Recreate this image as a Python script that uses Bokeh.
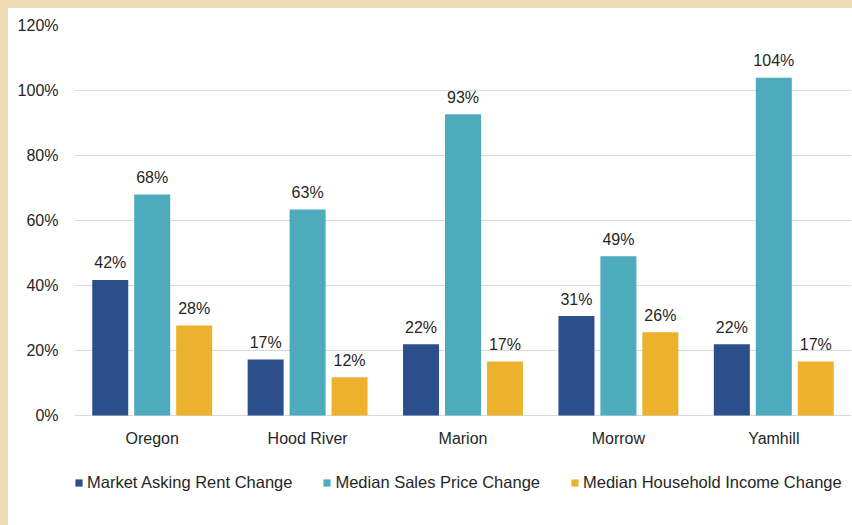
from bokeh.plotting import figure
from bokeh.models import (ColumnDataSource, FixedTicker, PrintfTickFormatter,
                          Legend, LegendItem, FactorRange)
from bokeh.transform import dodge
from bokeh.core.properties import value
from bokeh.embed import file_html
from bokeh.resources import INLINE

# ---- data ----
categories = ["Oregon", "Hood River", "Marion", "Morrow", "Yamhill"]
series_names = ["Market Asking Rent Change",
                "Median Sales Price Change",
                "Median Household Income Change"]
rent_change = [41.7, 17.2, 21.9, 30.6, 21.9]
sales_price_change = [68.0, 63.4, 92.7, 49.0, 103.9]
income_change = [27.7, 11.8, 16.6, 25.6, 16.6]
y_ticks = [0, 20, 40, 60, 80, 100, 120]

colors = ["#2C4E8A", "#4EAABD", "#ECB22E"]
FONT = "Liberation Sans"
TEXT = "#262626"
GRID = "#D9D9D9"


def fmt(vals):
    return [f"{round(v):.0f}%" for v in vals]


source = ColumnDataSource(dict(
    cat=categories,
    base=[0] * len(categories),
    rent=rent_change, sales=sales_price_change, income=income_change,
    rent_lbl=fmt(rent_change), sales_lbl=fmt(sales_price_change),
    income_lbl=fmt(income_change),
))

# frame reaches the bottom of the page so the legend under the axis stays visible
FRAME_H = 500
PLOT_H = 390  # pixels spanned by 0..120
y_top = 120
y_bottom = y_top - y_top * FRAME_H / PLOT_H

p = figure(x_range=FactorRange(*categories), y_range=(y_bottom, y_top),
           frame_width=777, frame_height=FRAME_H,
           min_border_left=66, min_border_right=1,
           min_border_top=17, min_border_bottom=0,
           output_backend="svg", toolbar_location=None)

p.outline_line_color = None
p.background_fill_color = "white"
p.border_fill_color = "white"

bar_w = 0.2317
offsets = [-0.27, 0.0, 0.27]
cols = ["rent", "sales", "income"]
renderers = []
for off, col, c in zip(offsets, cols, colors):
    r = p.vbar(x=dodge("cat", off, range=p.x_range), top=col, bottom=0,
               width=bar_w, source=source, fill_color=c, line_color=None)
    renderers.append(r)
    p.text(x=dodge("cat", off, range=p.x_range), y=col, text=col + "_lbl",
           source=source, text_align="center", text_baseline="middle",
           y_offset=-17, text_font=value(FONT), text_font_size="16px",
           text_color=TEXT)

# category labels under the 0% line
p.text(x="cat", y="base", text="cat", source=source, text_align="center",
       text_baseline="middle", y_offset=23, text_font=value(FONT),
       text_font_size="16px", text_color=TEXT)

# axes
p.yaxis.ticker = FixedTicker(ticks=y_ticks)
p.yaxis.formatter = PrintfTickFormatter(format="%d%%")
p.yaxis.axis_line_color = None
p.yaxis.major_tick_line_color = None
p.yaxis.minor_tick_line_color = None
p.yaxis.major_tick_out = 0
p.yaxis.major_tick_in = 0
p.yaxis.major_label_standoff = 16
p.yaxis.major_label_text_font = FONT
p.yaxis.major_label_text_font_size = "16px"
p.yaxis.major_label_text_color = TEXT

p.xaxis.visible = False

p.xgrid.grid_line_color = None
p.ygrid.ticker = FixedTicker(ticks=y_ticks)
p.ygrid.grid_line_color = GRID
p.ygrid.grid_line_width = 1

legend = Legend(
    items=[LegendItem(label=n, renderers=[r]) for n, r in zip(series_names, renderers)],
    orientation="horizontal", location=(0, 33),
    padding=0, margin=0, spacing=30,
    glyph_width=9, glyph_height=9, label_standoff=4,
    label_text_font=FONT, label_text_font_size="16.5px", label_text_color=TEXT,
    border_line_color=None, background_fill_alpha=0,
)
p.add_layout(legend)

html = file_html(p, INLINE)
style = ("<style>html{background:#F0DCB2;}"
         "body{background:#FFFFFF;margin:8px 0 0 8px;overflow:hidden;"
         "min-height:calc(100vh - 8px);}</style>")
html = html.replace("</head>", style + "</head>", 1)
open("out.html", "w").write(html)
